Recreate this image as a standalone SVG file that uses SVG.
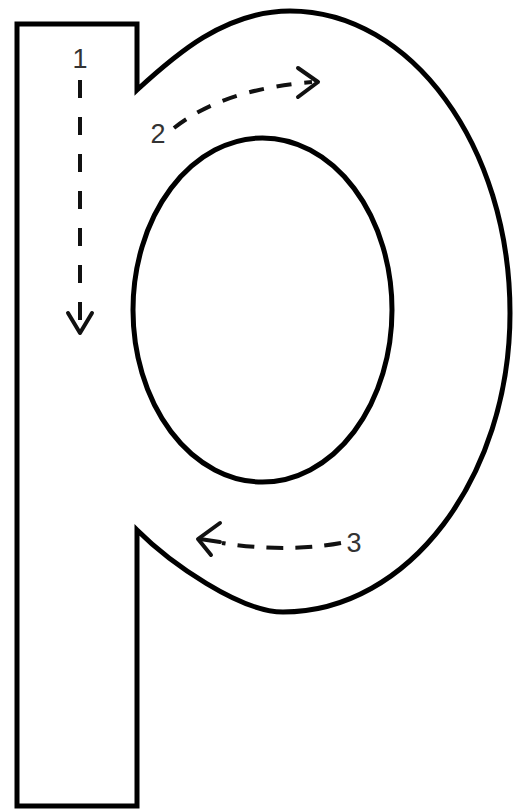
<svg xmlns="http://www.w3.org/2000/svg" width="522" height="811" viewBox="0 0 522 811">
  <style>
    .outline { fill: none; stroke: #000; stroke-width: 5; stroke-linejoin: miter; }
    .dash { fill: none; stroke: #111; stroke-width: 4; }
    .head { fill: none; stroke: #111; stroke-width: 4; stroke-linecap: round; stroke-linejoin: round; }
    .num { font-family: "Liberation Sans", Arial, sans-serif; font-size: 27px; fill: #333; text-anchor: middle; }
  </style>
  <rect width="522" height="811" fill="#fff"/>
  <g id="letter-p">
    <path class="outline" d="M17,24 H137 V90 C175,55 225,11 290,11 C411,11 510,146 510,313 C510,478 408,612 283,612 C240,612 170,563 137,530 V806 H17 Z"/>
  </g>
  <g id="counter">
    <ellipse class="outline" cx="262.5" cy="310" rx="129.5" ry="172"/>
  </g>
  <g id="connectors">
    <g id="stroke-1">
      <line class="dash" x1="80" y1="80" x2="80" y2="330" stroke-dasharray="18 19"/>
      <polyline class="head" points="68,313 80,333 92,313"/>
    </g>
    <g id="stroke-2">
      <path class="dash" d="M174,128 C205,104 245,88 312,82" stroke-dasharray="15 13"/>
      <polyline class="head" points="298,68 318,82 298,97"/>
    </g>
    <g id="stroke-3">
      <path class="dash" d="M341,543 Q285,553 222,543" stroke-dasharray="17 12"/>
      <line class="head" x1="200" y1="539" x2="220" y2="542"/>
      <polyline class="head" points="220,523 198,539 211,555"/>
    </g>
  </g>
  <g id="labels">
    <text class="num" x="80" y="68">1</text>
    <text class="num" x="158" y="143">2</text>
    <text class="num" x="354" y="552">3</text>
  </g>
</svg>
